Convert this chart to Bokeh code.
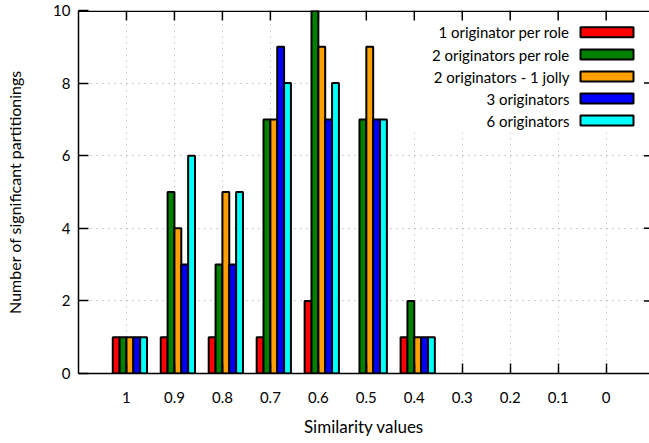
from bokeh.plotting import figure
from bokeh.models import (Range1d, FixedTicker, BoxAnnotation, Label)
from bokeh.embed import file_html
from bokeh.resources import INLINE

# ---- data ----
categories = ["1", "0.9", "0.8", "0.7", "0.6", "0.5", "0.4", "0.3", "0.2", "0.1", "0"]
series_names = ["1 originator per role", "2 originators per role",
                "2 originators - 1 jolly", "3 originators", "6 originators"]
one_per_role = [1, 1, 1, 1, 2, 0, 1, 0, 0, 0, 0]
two_per_role = [1, 5, 3, 7, 10, 7, 2, 0, 0, 0, 0]
two_one_jolly = [1, 4, 5, 7, 9, 9, 1, 0, 0, 0, 0]
three_orig = [1, 3, 3, 9, 7, 7, 1, 0, 0, 0, 0]
six_orig = [1, 6, 5, 8, 8, 7, 1, 0, 0, 0, 0]
y_ticks = [0, 2, 4, 6, 8, 10]

series = [one_per_role, two_per_role, two_one_jolly, three_orig, six_orig]
colors = ["#ff0000", "#008000", "#ffa000", "#0000ff", "#00ffff"]

FONT = "Lato"
# frame geometry in image pixels
FL, FT, FB, FR = 78, 10, 373, 649
FRAME_W, FRAME_H = FR - FL, FB - FT
PX_PER_UNIT = 47.97
X0, X1 = -1.0, -1.0 + FRAME_W / PX_PER_UNIT
Y0, Y1 = 0, 10

idx = list(range(len(categories)))

p = figure(width=FR, height=443, frame_width=FRAME_W, frame_height=FRAME_H,
           x_range=Range1d(X0, X1), y_range=Range1d(Y0, Y1),
           output_backend="svg", toolbar_location=None,
           min_border_left=FL, min_border_right=0, min_border_top=FT,
           min_border_bottom=443 - FB, background_fill_color="white",
           border_fill_color="white")
p.outline_line_color = None

def px_x(px):
    return X0 + (px - FL) * (X1 - X0) / FRAME_W

def px_y(py):
    return Y0 + (FB - py) * (Y1 - Y0) / FRAME_H

# axes
xa = p.xaxis[0]
xa.ticker = FixedTicker(ticks=idx)
xa.major_label_overrides = {i: c for i, c in enumerate(categories)}
xa.axis_label = "Similarity values"
ya = p.yaxis[0]
ya.ticker = FixedTicker(ticks=y_ticks)
ya.axis_label = "Number of significant partitionings"
for ax in (xa, ya):
    ax.major_tick_in = 10
    ax.major_tick_out = 0
    ax.minor_tick_in = 0
    ax.minor_tick_out = 0
    ax.axis_line_color = "black"
    ax.axis_line_width = 1.5
    ax.major_tick_line_color = "black"
    ax.major_tick_line_width = 1.5
    ax.major_label_text_font = FONT
    ax.major_label_text_font_size = "15px"
    ax.major_label_text_color = "black"
    ax.axis_label_text_font = FONT
    ax.axis_label_text_font_style = "normal"
    ax.axis_label_text_color = "black"
xa.axis_label_text_font_size = "17px"
ya.axis_label_text_font_size = "16px"
xa.major_label_standoff = 18
xa.axis_label_standoff = 10
ya.major_label_standoff = 8
ya.axis_label_standoff = 26

# grid
for g in (p.xgrid[0], p.ygrid[0]):
    g.level = "image"
    g.grid_line_color = "#a0a0a0"
    g.grid_line_dash = "1 5"
    g.grid_line_width = 1
p.xgrid[0].ticker = FixedTicker(ticks=idx)
p.ygrid[0].ticker = FixedTicker(ticks=y_ticks)

# opaque key area
p.add_layout(BoxAnnotation(left=px_x(325), right=X1, top=Y1, bottom=px_y(132),
                           fill_color="white", fill_alpha=1, line_color=None,
                           level="underlay"))

# bars (zero counts draw nothing)
bw = 1 / 7
for i, (vals, col) in enumerate(zip(series, colors)):
    xs = [k + (i - 1.5) * bw for k, v in zip(idx, vals) if v > 0]
    ts = [v for v in vals if v > 0]
    p.vbar(x=xs, top=ts, bottom=0, width=bw, fill_color=col,
           line_color="black", line_width=2)

# top border and mirrored ticks (top and right)
p.add_layout(BoxAnnotation(left=X0, right=X1, top=Y1, bottom=px_y(FT + 1.5),
                           fill_color="black", fill_alpha=1, line_color=None,
                           level="annotation"))
p.segment(x0=idx, y0=[Y1] * len(idx), x1=idx, y1=[px_y(FT + 10)] * len(idx),
          line_color="black", line_width=1.5)
inner_y = y_ticks[1:-1]
p.segment(x0=[px_x(FR - 5.5)] * len(inner_y), y0=inner_y,
          x1=[X1] * len(inner_y), y1=inner_y, line_color="black", line_width=1.5)

# key: right-aligned labels with the colour sample on the right
row_y = [31.7, 54, 76, 98, 120]
for name, col, ry in zip(series_names, colors, row_y):
    p.add_layout(Label(x=px_x(569), y=px_y(ry), text=name, text_align="right",
                       text_baseline="middle", text_font=FONT, text_font_size="15px",
                       text_color="black"))
    p.quad(left=[px_x(580)], right=[px_x(633)], top=[px_y(ry - 5)],
           bottom=[px_y(ry + 5)], fill_color=col, line_color="black", line_width=2)

open("out.html", "w").write(file_html(p, INLINE))
